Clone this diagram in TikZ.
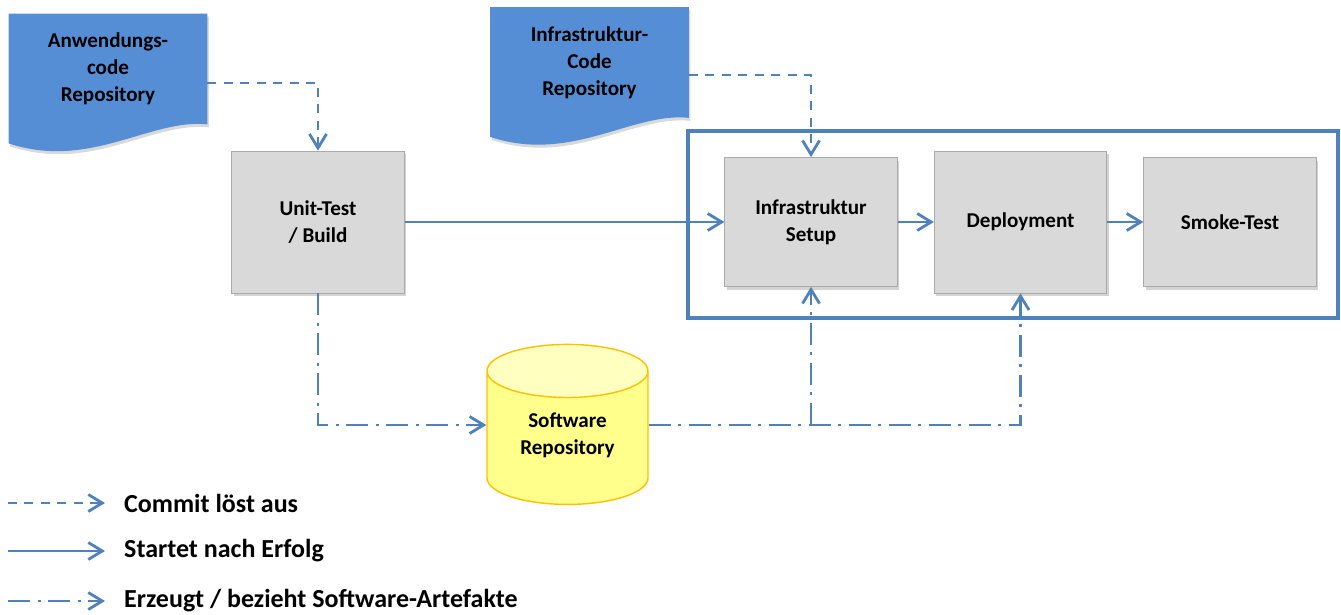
\documentclass[tikz,border=0pt]{standalone}
\usepackage{fontspec}
\setmainfont{Carlito}
\usetikzlibrary{positioning, arrows.meta, shapes.geometric, shadows, backgrounds}
\definecolor{docblue}{HTML}{558ED5}
\definecolor{lineblue}{HTML}{4F81BD}
\definecolor{boxgray}{HTML}{D9D9D9}
\definecolor{boxborder}{HTML}{AAAAAA}
\definecolor{dbbody}{HTML}{FFFF8C}
\definecolor{dbtop}{HTML}{FFFFC0}
\definecolor{dbborder}{HTML}{FFC000}
% document shape (wavy bottom) behind a named node
\newcommand{\docshape}[1]{%
    \fill[docblue, drop shadow={opacity=.3, shadow xshift=.03, shadow yshift=-.06}]
        (#1.north west) -- (#1.north east) -- (#1.south east)
        .. controls +(-1.14,0.12) and +(1.62,-0.54) .. ([yshift=-0.38cm]#1.south west)
        -- cycle;}

\begin{document}
\begin{tikzpicture}[
    % GLOBAL CFG
    font=\bfseries\fontsize{12}{15.4}\selectfont,
    >={Straight Barb[length=2.8mm, width=3.4mm]},
    % Styles
    doc/.style={% For code repositories
        rectangle,
        minimum width=3.96cm,
        minimum height=2.2cm,
        inner sep=1pt,
    },
    stage/.style={% For pipeline steps
        rectangle,
        draw=boxborder,
        fill=boxgray,
        minimum width=3.45cm,
        drop shadow={opacity=.35, shadow xshift=.04, shadow yshift=-.06},
    },
    database/.style={% For the artefact store
        cylinder,
        shape border rotate=90,
        aspect=0.5,
        draw=dbborder,
        thick,
        cylinder uses custom fill,
        cylinder body fill=dbbody,
        cylinder end fill=dbtop,
        minimum width=3.22cm,
        minimum height=3.2cm,
    },
    frame/.style={% For the deployment block
        rectangle,
        draw=lineblue,
        line width=2.2pt,
    },
    legend/.style={
        font=\bfseries\fontsize{14.8}{17}\selectfont,
        anchor=west,
    },
    Commit/.style={% Dashed arrows
        ->, lineblue, line width=1.6pt,
        dash pattern=on 0.18cm off 0.15cm,
    },
    Success/.style={% Solid arrows
        ->, lineblue, line width=1.6pt,
    },
    Artefact/.style={% Dash-dotted arrows
        ->, lineblue, line width=1.6pt,
        dash pattern=on 0.44cm off 0.15cm on 0.06cm off 0.15cm,
    },
    every text node part/.style={
        align=center
    },
    ]
    \useasboundingbox (0,0) rectangle (26.82,-12.3);

    % Draw frame
    \node [frame, minimum width=13cm, minimum height=3.74cm] (block) at (20.26,-4.49) {};

    % Draw repositories
    \node [doc] (appdoc) at (2.16,-1.38) {Anwendungs-\\code\\Repository};
    \node [doc] (infradoc) at (11.79,-1.25) {Infrastruktur-\\Code\\Repository};
    \begin{scope}[on background layer]
        \docshape{appdoc}
        \docshape{infradoc}
    \end{scope}

    % Draw steps
    \node [stage, minimum height=2.84cm] (unit) at (6.36,-4.44) {Unit-Test\\/ Build};
    \node [stage, minimum height=2.58cm] (setup) at (16.22,-4.44) {Infrastruktur\\Setup};
    \node [stage, minimum height=2.84cm] (deploy) at (20.41,-4.44) {Deployment};
    \node [stage, minimum height=2.58cm] (smoke) at (24.6,-4.44) {Smoke-Test};

    % Draw store
    \node [database] (store) at (11.35,-8.86) {Software\\Repository\\[-5pt]};
    \coordinate (storein) at ([yshift=0.36cm]store.west);
    \coordinate (storeout) at ([yshift=0.36cm]store.east);

    % Connect all
    % Commits
    \draw [Commit] ([yshift=-0.28cm]appdoc.east) -| (unit.north);
    \draw [Commit] ([yshift=-0.25cm]infradoc.east) -| (setup.north);

    % Pipeline
    \draw [Success] (unit) -- (setup);
    \draw [Success] (setup) -- (deploy);
    \draw [Success] (deploy) -- (smoke);

    % Artefacts
    \draw [Artefact] (unit.south) |- (storein);
    \draw [Artefact] (storeout) -| (deploy.south);
    \draw [Artefact] (storeout -| setup.south) -- (setup.south);

    % Legend
    \coordinate (c1a) at (0.16,-10.06);
    \coordinate (c1b) at (2.1,-10.06);
    \coordinate (c2a) at (0.16,-11.02);
    \coordinate (c2b) at (2.1,-11.02);
    \coordinate (c3a) at (0.16,-12.02);
    \coordinate (c3b) at (2.1,-12.02);
    \draw [Commit] (c1a) -- (c1b);
    \draw [Success] (c2a) -- (c2b);
    \draw [Artefact] (c3a) -- (c3b);
    \node [legend] (l1) at (2.36,-10.06) {Commit löst aus};
    \node [legend] (l2) at (2.36,-11.02) {Startet nach Erfolg};
    \node [legend] (l3) at (2.36,-12.02) {Erzeugt / bezieht Software-Artefakte};

\end{tikzpicture}
\end{document}
